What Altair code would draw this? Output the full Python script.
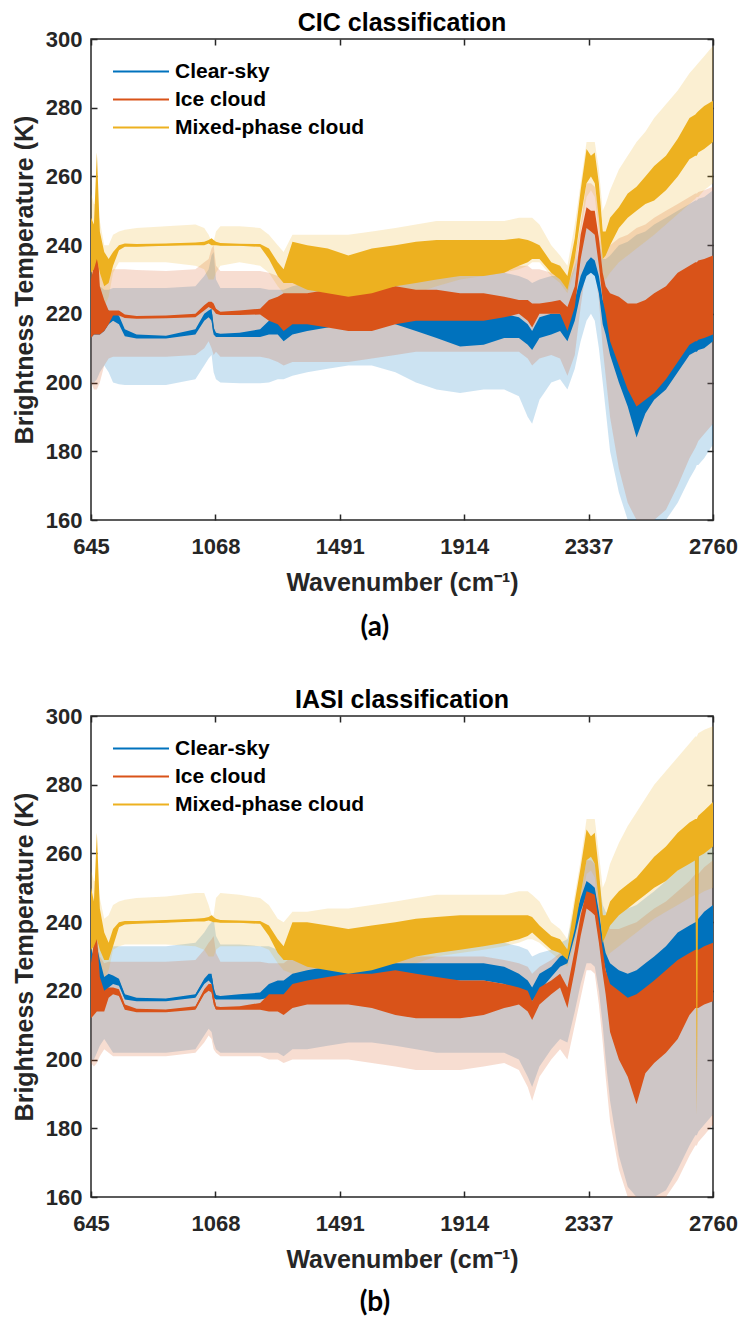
import altair as alt
import pandas as pd

SERIES = ["Clear-sky", "Ice cloud", "Mixed-phase cloud"]
COLORS = ["#0072BD", "#D95319", "#EDB120"]
X_TICKS = [645, 1068, 1491, 1914, 2337, 2760]
Y_TICKS = [160, 180, 200, 220, 240, 260, 280, 300]

WN = [645, 655, 665, 675, 690, 705, 720, 740, 760, 800,
      900, 1000, 1030, 1045, 1055, 1062, 1070, 1085, 1150, 1220,
      1250, 1280, 1300, 1330, 1380, 1450, 1520, 1600, 1680, 1750,
      1820, 1900, 1980, 2050, 2100, 2130, 2145, 2170, 2210, 2240,
      2265, 2290, 2310, 2330, 2345, 2358, 2372, 2385, 2395, 2410,
      2440, 2470, 2500, 2530, 2560, 2600, 2640, 2680, 2700, 2705,
      2710, 2730, 2760]

# ---------------- (a) CIC classification ----------------
A_CLR_LO = [213, 214, 214, 214, 215, 217, 218, 217, 213.5, 212.8,
            212.8, 214, 218, 219, 218, 214, 213.3, 213.3, 213.3, 213.3,
            214, 214, 212, 214, 215, 216, 218, 219, 217, 215,
            213, 210.5, 211, 213, 213, 211, 209.5, 213, 214, 215,
            212, 218, 226, 231, 232, 231, 226, 217, 214, 208,
            200, 193, 184, 191, 195, 198, 203, 208, 209, 209,
            209.5, 210, 212]
A_CLR_HI = [225, 226, 228, 224, 222, 221, 220, 219.5, 215.5, 214,
            213.6, 215.5, 220, 221, 221.5, 216, 214.5, 214.2, 214.5, 215.5,
            218, 219, 218, 219, 220, 222, 223, 224, 223, 221,
            220, 219, 219.5, 220, 219, 217, 215, 219, 220, 220,
            218, 224, 231, 235, 236.5, 235.5, 231, 224, 222, 224,
            222, 221, 220, 222, 224, 226, 229, 231, 232, 232,
            232.5, 233, 234]
A_CLR_BLO = [200, 200, 201, 203, 205, 203, 200, 199.5, 199.3, 199.3,
             199.3, 201, 205, 207, 208, 203, 201, 200, 199.8, 199.8,
             200, 201, 201, 202, 203, 204, 205, 205, 203, 200,
             198, 197, 198, 198, 196, 190, 188, 195, 200, 201,
             198, 204, 212, 218, 220, 218, 210, 200, 192, 180,
             168, 160, 160, 160, 160, 160, 165, 172, 175, 176,
             176, 178, 182]
A_CLR_BHI = [228, 230, 232, 228, 227, 227, 227.5, 227.5, 227.5, 227.5,
             227.5, 228, 231, 233, 237, 238, 230, 227.5, 227.5, 227.5,
             227, 227, 227, 228, 229, 230, 231, 232, 232, 232,
             232, 232, 232, 232, 231, 230, 229, 230, 231, 231,
             228, 234, 240, 246, 248, 247, 242, 236, 236, 237,
             240, 241, 243, 244, 246, 248, 250, 252, 253, 253,
             253.5, 254, 256]

A_ICE_LO = [213, 214, 214, 214, 215, 217, 219.5, 219.5, 218.8, 218.6,
            218.7, 219, 221, 222, 221.5, 221, 220, 219.7, 219.7, 219.8,
            218, 217, 215, 217, 217, 216, 215, 215, 217, 218,
            218, 218, 218, 219, 220, 218, 216, 220, 220, 220,
            215, 222, 236, 245, 244, 243, 234, 224, 220, 212,
            205, 198, 193, 195, 197, 201, 206, 211, 212, 212,
            212.5, 213, 214]
A_ICE_HI = [230, 234, 243, 228, 224, 221, 221, 221, 219.8, 219.4,
            219.5, 220, 222.5, 223.5, 223.5, 223, 221.5, 220.6, 221, 221.5,
            224, 225, 226, 226, 226, 227, 227, 227, 228, 227,
            227, 226, 226, 225, 224, 224, 223, 223, 223.5, 224,
            222, 228, 243, 251, 250, 250, 242, 232, 228, 226,
            225, 223, 223, 224, 226, 228, 232, 234, 235, 235,
            235.5, 236, 237]
A_ICE_BLO = [200, 198, 198, 200, 205, 207, 207.5, 207.5, 207.5, 207.5,
             207.5, 208, 210, 212, 210, 208, 209, 207.5, 207.5, 207.5,
             207, 206, 205, 206, 206, 206, 206, 207, 208, 209,
             209, 209, 209, 209, 209, 207, 205, 207, 208, 207,
             202, 208, 222, 234, 235, 233, 224, 210, 202, 190,
             175, 165, 160, 160, 160, 163, 170, 178, 181, 182,
             183, 185, 188]
A_ICE_BHI = [235, 238, 240, 234, 232, 232, 233, 233, 233, 232.8,
             232.5, 233, 235, 236, 239, 240, 234, 232.5, 232.5, 232.5,
             232, 231, 231, 232, 232, 232, 233, 233, 234, 235,
             235, 235, 235, 235, 234, 234, 233, 233, 232, 232,
             230, 236, 246, 258, 258, 257, 250, 240, 240, 240,
             242, 243, 245, 246, 248, 250, 252, 254, 255, 255,
             255.5, 256, 257]

A_MIX_LO = [232, 233, 236, 232, 228, 229, 234, 238.5, 239.5, 239.5,
            239.8, 240, 240, 240.5, 240, 240, 240, 239.8, 239.8, 239.5,
            236, 231, 229, 229, 227, 226, 225, 226, 228, 229,
            230, 231, 231, 232, 234, 235, 236, 236, 232, 230,
            227, 236, 248, 258, 260, 258, 248, 236, 237, 240,
            245, 248, 250, 252, 253, 256, 260, 265, 266, 266,
            267, 268, 270]
A_MIX_HI = [248, 246, 267, 244, 238, 236, 238, 240, 240.5, 240.3,
            240.5, 240.8, 241, 241.5, 242, 241.5, 241, 240.6, 240.4, 240.3,
            239, 235, 233, 241, 240, 239, 237, 239, 240, 241,
            241.5, 241.5, 241.5, 241.5, 242, 241.5, 241, 240, 235, 234,
            231, 242, 256, 268, 266, 267, 258, 244, 244, 248,
            251, 255, 257, 260, 263, 266, 271, 277, 278, 278.5,
            279, 280.5, 282]
A_MIX_BLO = [220, 222, 225, 225, 222, 225, 232, 235, 235, 235,
             235, 234, 233, 230, 230, 230, 232, 234, 235, 234,
             232, 228, 226, 225, 223, 222, 222, 223, 224, 226,
             228, 230, 231, 232, 233, 234, 235, 235, 231, 229,
             226, 233, 244, 254, 256, 254, 244, 230, 230, 232,
             235, 237, 239, 241, 243, 246, 249, 252, 253.5, 254,
             254, 256, 258]
A_MIX_BHI = [255, 252, 252, 247, 240, 240, 243, 244, 244.5, 245,
             245.5, 246, 245, 243, 241, 241, 244, 245.5, 245.5, 245,
             243, 240, 238, 243, 243, 243, 243, 244, 245, 246,
             247, 247, 247, 247, 248, 248, 248, 246, 240, 237,
             234, 246, 258, 270, 270, 270, 262, 250, 252, 256,
             262, 266, 270, 273, 277, 281, 285, 290, 292, 292.5,
             293, 295, 298]

# ---------------- (b) IASI classification ----------------
B_CLR_LO = [216, 218, 219, 219, 219, 221, 222, 221.5, 217.5, 217,
            217, 218, 222, 223, 222, 218, 217.5, 217.5, 217.5, 217.5,
            218, 218, 218, 220, 221, 223, 224, 224, 223, 223,
            223, 223, 223, 222, 220, 218, 217, 220, 224, 227,
            228, 236, 243, 248, 247, 246, 238, 230, 226, 220,
            212, 204, 190, 201, 204, 208, 214, 216, 217, 217,
            217, 218, 219]
B_CLR_HI = [232, 230, 233, 229, 224, 225, 224.5, 223.5, 219, 218,
            217.8, 219, 223.5, 225, 225, 221, 218.8, 218.5, 219, 219.5,
            222, 223, 223, 225, 226, 227, 228, 228, 228, 228,
            228, 228, 228, 227, 225, 223, 221, 225, 227, 230,
            231, 241, 247, 252, 251, 250, 243, 235, 231, 228,
            226, 225, 226, 228, 230, 233, 237, 239, 240, 240,
            241, 243, 245]
B_CLR_BLO = [200, 200, 202, 204, 206, 204, 202, 202, 202, 202,
             202, 203, 207, 209, 208, 205, 203, 202, 202, 202,
             202, 202, 201, 203, 203, 204, 205, 205, 204, 203,
             202, 202, 202, 202, 200, 195, 192, 198, 203, 206,
             205, 214, 222, 228, 228, 227, 220, 210, 200, 188,
             172, 163, 160, 160, 160, 162, 168, 175, 178, 178,
             179, 181, 184]
B_CLR_BHI = [234, 236, 238, 234, 232, 233, 233, 233, 233, 233,
             233, 234, 237, 239, 240, 241, 236, 233.5, 233.5, 233,
             233, 232, 232, 233, 234, 235, 235, 235, 235, 235,
             235, 235, 235, 234, 233, 232, 230, 231, 232, 234,
             235, 245, 252, 260, 260, 259, 253, 245, 243, 242,
             243, 244, 245, 247, 249, 252, 255, 258, 260, 260,
             260, 262, 264]

B_ICE_LO = [212, 213, 214, 214, 214, 218, 219, 218.5, 214.5, 213.8,
            213.8, 214.5, 219, 220, 219.5, 216, 214.5, 214.5, 214.5, 214.5,
            214, 214, 213, 215, 216, 216, 216, 215, 213, 212,
            212, 212, 213, 215, 216, 214, 211.5, 216, 219, 221,
            215, 226, 236, 244, 243, 242, 234, 225, 219, 208,
            200, 195, 187, 196, 199, 202, 206, 213, 215, 215,
            215, 216, 217]
B_ICE_HI = [228, 234, 236, 224, 220, 221, 221, 220.5, 216, 214.8,
            214.6, 215.5, 220.5, 222, 222, 219, 215.5, 215.3, 215.5, 216.5,
            219, 219, 219, 222, 223, 224, 225, 225, 226, 225,
            224, 223, 223, 222, 221, 220, 217, 221, 223, 225,
            221, 232, 242, 249, 248.5, 248, 240, 232, 226, 222,
            220, 218, 219, 221, 223, 226, 229, 231, 232, 232,
            232, 233, 234]
B_ICE_BLO = [199, 198, 199, 201, 203, 202, 201, 201, 201, 201,
             201, 202, 205, 207, 206, 203, 202, 201, 201, 201,
             200, 200, 199, 200, 200, 200, 200, 199, 198, 197,
             197, 197, 198, 199, 197, 192, 188, 195, 200, 203,
             200, 210, 218, 226, 226, 225, 216, 205, 195, 182,
             168, 160, 160, 160, 160, 160, 165, 172, 175, 175,
             176, 178, 181]
B_ICE_BHI = [230, 233, 235, 230, 228, 228.5, 228.5, 228.5, 228.5, 228.5,
             228.5, 229, 232, 234, 235, 236, 231, 228.5, 228.5, 228.5,
             228, 228, 228, 230, 230, 231, 231, 231, 231, 230,
             230, 230, 230, 229, 228, 227, 225, 227, 229, 231,
             230, 240, 248, 258, 258, 257, 250, 242, 240, 238,
             238, 239, 240, 242, 244, 246, 249, 252, 254, 254,
             254, 256, 258]

B_MIX_LO = [232, 233, 235, 232, 229, 229, 233, 238.5, 239.3, 239.5,
            239.8, 240.2, 240.2, 240.5, 240.2, 240, 240, 239.8, 239.8, 239.5,
            236, 231, 229, 229, 227, 226, 225, 226, 228, 230,
            231, 232, 233, 234, 235, 236, 237, 235, 232, 231,
            229, 238, 248, 258, 259, 257, 246, 234, 236, 239,
            242, 244, 246, 248, 250, 252, 255, 257, 258, 184,
            259, 260, 262]
B_MIX_HI = [250, 246, 266, 244, 237, 234, 238, 240, 240.3, 240.3,
            240.6, 241, 241.2, 241.5, 242, 241.5, 241, 240.6, 240.5, 240.3,
            239, 235, 233, 240, 240, 239, 238, 239, 240, 241,
            241.5, 242, 242, 242, 242, 242, 241.5, 239, 236, 235,
            232, 246, 256, 267, 265, 266, 255, 242, 242, 246,
            249, 251, 253, 256, 259, 262, 266, 269, 270, 270,
            271, 272.5, 275]
B_MIX_BLO = [222, 223, 226, 226, 223, 226, 232, 233, 233.5, 233.5,
             233.5, 233, 232, 230, 230, 230, 232, 233, 233, 233,
             232, 228, 226, 225, 224, 224, 224, 225, 226, 228,
             230, 231, 232, 233, 234, 235, 235, 234, 231, 229,
             227, 234, 244, 254, 255, 253, 242, 229, 229, 231,
             233, 235, 237, 239, 241, 243, 245, 247, 248, 248,
             248, 249, 250]
B_MIX_BHI = [255, 252, 252, 247, 241, 242, 245, 246, 246.5, 247,
             247.5, 248.5, 248.5, 245, 242, 242, 247, 248.5, 248, 247,
             245, 241, 240, 243, 243, 244, 244, 245, 246, 247,
             248, 248, 248, 248, 249, 249, 248, 246, 240, 238,
             235, 248, 258, 270, 270, 270, 260, 250, 252, 257,
             263, 268, 272, 276, 280, 284, 288, 292, 294, 294,
             295, 296, 297]

FONT = "Liberation Sans"
INK = "#262626"
W, H = 622, 481


def frame(groups):
    rows = []
    for name, (lo, hi, blo, bhi) in zip(SERIES, groups):
        assert len(lo) == len(hi) == len(blo) == len(bhi) == len(WN), name
        for i, w in enumerate(WN):
            rows.append({"wn": w, "series": name, "lo": lo[i], "hi": hi[i],
                         "blo": blo[i], "bhi": bhi[i], "mid": (lo[i] + hi[i]) / 2})
    return pd.DataFrame(rows)


def tick_axis(orient, values):
    return alt.Axis(orient=orient, values=values, offset=-6, tickSize=6, ticks=True,
                    tickColor=INK, tickWidth=1.5, labels=False, domain=False,
                    grid=False, title=None)


def panel(df, title):
    xs = alt.Scale(domain=[645, 2760], nice=False, zero=False)
    ys = alt.Scale(domain=[160, 300], nice=False, zero=False)
    cs = alt.Scale(domain=SERIES, range=COLORS)
    main_x = alt.Axis(orient="bottom", values=X_TICKS, format="d", title="Wavenumber (cm⁻¹)",
                      ticks=False, tickSize=0, domain=False, grid=False,
                      labelFont=FONT, labelFontSize=22, labelFontWeight="bold", labelColor=INK,
                      labelPadding=16, labelFlush=False, labelOverlap=False,
                      titleFont=FONT, titleFontSize=25, titleFontWeight="bold", titleColor=INK,
                      titlePadding=13)
    main_y = alt.Axis(orient="left", values=Y_TICKS, format="d", title="Brightness Temperature (K)",
                      ticks=False, tickSize=0, domain=False, grid=False,
                      labelFont=FONT, labelFontSize=22, labelFontWeight="bold", labelColor=INK,
                      labelPadding=9, labelFlush=False, labelOverlap=False,
                      titleFont=FONT, titleFontSize=25, titleFontWeight="bold", titleColor=INK,
                      titlePadding=8)
    legend = alt.Legend(orient="none", legendX=32.5, legendY=15, title=None,
                        symbolType="M-1.697,0H1.697", symbolSize=1089, symbolStrokeWidth=2,
                        symbolOpacity=1, labelFont=FONT, labelFontSize=21, labelFontWeight="bold",
                        labelColor="black", labelOffset=16.5, labelLimit=400, padding=0,
                        rowPadding=0)
    base = alt.Chart(df)
    line = base.mark_line(strokeWidth=1.5, clip=True).encode(
        x=alt.X("wn:Q", scale=xs, axis=tick_axis("top", X_TICKS)),
        y=alt.Y("mid:Q", scale=ys, axis=tick_axis("right", Y_TICKS)),
        color=alt.Color("series:N", scale=cs, legend=legend),
    )
    bands = base.mark_area(fillOpacity=0.2, clip=True).encode(
        x=alt.X("wn:Q", scale=xs, axis=main_x),
        y=alt.Y("blo:Q", scale=ys, axis=main_y),
        y2="bhi:Q",
        color=alt.Color("series:N", scale=cs),
    )
    env = base.mark_area(opacity=1, clip=True).encode(
        x=alt.X("wn:Q", scale=xs, axis=tick_axis("bottom", X_TICKS)),
        y=alt.Y("lo:Q", scale=ys, axis=tick_axis("left", Y_TICKS)),
        y2="hi:Q",
        color=alt.Color("series:N", scale=cs),
    )
    return alt.layer(line, bands, env).resolve_axis(x="independent", y="independent").properties(
        width=W, height=H,
        title=alt.TitleParams(title, font=FONT, fontSize=25, fontWeight="bold", color="black",
                              anchor="middle", offset=-8),
    )


def captioned(chart, caption, gap):
    return alt.vconcat(chart, title=alt.TitleParams(caption, orient="bottom", font="Lato",
                                                    fontSize=28, fontWeight="bold", color="black",
                                                    anchor="middle", offset=gap)
                       ).resolve_scale(color="independent")


df_a = frame([(A_CLR_LO, A_CLR_HI, A_CLR_BLO, A_CLR_BHI),
              (A_ICE_LO, A_ICE_HI, A_ICE_BLO, A_ICE_BHI),
              (A_MIX_LO, A_MIX_HI, A_MIX_BLO, A_MIX_BHI)])
df_b = frame([(B_CLR_LO, B_CLR_HI, B_CLR_BLO, B_CLR_BHI),
              (B_ICE_LO, B_ICE_HI, B_ICE_BLO, B_ICE_BHI),
              (B_MIX_LO, B_MIX_HI, B_MIX_BLO, B_MIX_BHI)])

chart = alt.vconcat(
    captioned(panel(df_a, "CIC classification"), "(a)", 18),
    captioned(panel(df_b, "IASI classification"), "(b)", 16),
    spacing=45,
).resolve_scale(color="independent").properties(
    padding={"left": 3, "top": 2, "right": 0, "bottom": 0}
).configure_view(stroke=INK, strokeWidth=1.5)

chart.save("out.html", embed_options={"renderer": "svg", "actions": False})
